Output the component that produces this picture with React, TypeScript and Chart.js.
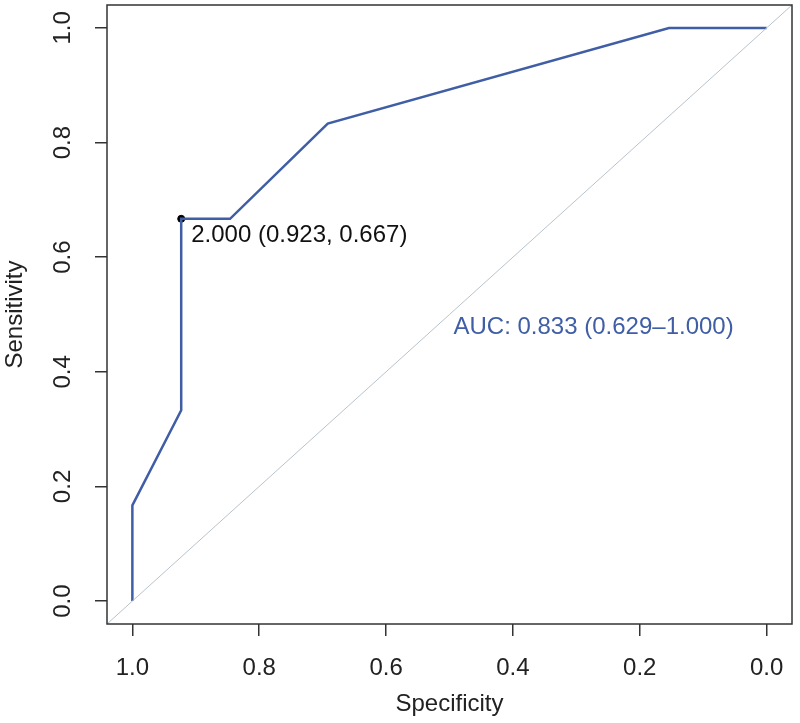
import React, { useEffect, useRef } from 'react';
import { Chart, registerables } from 'chart.js';

Chart.register(...registerables);

// ---- data ----
const specificity = [1.0, 1.0, 0.923, 0.923, 0.846, 0.692, 0.154, 0.0];
const sensitivity = [0.0, 0.167, 0.333, 0.667, 0.667, 0.833, 1.0, 1.0];
const tickValues = [0, 0.2, 0.4, 0.6, 0.8, 1.0];
const diagSpec = [1.1, -0.1];
const diagSens = [-0.1, 1.1];
const thresholdSpec = [0.923];
const thresholdSens = [0.667];
const thresholdLabel = '2.000 (0.923, 0.667)';
const aucLabel = 'AUC: 0.833 (0.629\u20131.000)';
const aucPos = [0.5, 0.5];
const xTitle = 'Specificity';
const yTitle = 'Sensitivity';

const FONT = '"Liberation Sans", Arial, Helvetica, sans-serif';
const BLUE = '#3f5ea5';
const AXIS = '#333333';
const TEXT = '#222222';

const decoPlugin = {
  id: 'rDeco',
  afterDraw(chart: any) {
    const { ctx, chartArea, scales } = chart;
    const x = scales.x;
    const y = scales.y;
    ctx.save();
    // box
    ctx.strokeStyle = AXIS;
    ctx.lineWidth = 1.5;
    ctx.strokeRect(chartArea.left, chartArea.top, chartArea.right - chartArea.left, chartArea.bottom - chartArea.top);
    // rotated y tick labels
    ctx.font = `24px ${FONT}`;
    ctx.fillStyle = TEXT;
    ctx.textAlign = 'center';
    ctx.textBaseline = 'middle';
    tickValues.forEach((v) => {
      const py = y.getPixelForValue(v);
      ctx.save();
      ctx.translate(63, py);
      ctx.rotate(-Math.PI / 2);
      ctx.fillText(v.toFixed(1), 0, 0);
      ctx.restore();
    });
    // threshold label
    const tx = x.getPixelForValue(thresholdSpec[0]);
    const ty = y.getPixelForValue(thresholdSens[0]);
    ctx.textAlign = 'left';
    ctx.textBaseline = 'middle';
    ctx.fillStyle = '#111111';
    ctx.fillText(thresholdLabel, tx + 10, ty + 17);
    // AUC label
    ctx.fillStyle = BLUE;
    ctx.textBaseline = 'top';
    ctx.fillText(aucLabel, x.getPixelForValue(aucPos[0]) + 4, y.getPixelForValue(aucPos[1]) + 1);
    ctx.restore();
  },
};

export default function App() {
  const ref = useRef<HTMLCanvasElement | null>(null);
  useEffect(() => {
    document.body.style.margin = '0';
    const canvas = ref.current;
    if (!canvas) return;
    const gridOpts = {
      display: true,
      drawOnChartArea: false,
      drawTicks: true,
      tickLength: 12,
      color: AXIS,
      lineWidth: 1.5,
    };
    const chart = new Chart(canvas, {
      type: 'scatter',
      data: {
        datasets: [
          {
            data: diagSpec.map((s, i) => ({ x: s, y: diagSens[i] })),
            showLine: true,
            borderColor: '#b9c3cc',
            borderWidth: 1,
            pointRadius: 0,
          },
          {
            data: specificity.map((s, i) => ({ x: s, y: sensitivity[i] })),
            showLine: true,
            borderColor: BLUE,
            borderWidth: 2.5,
            pointRadius: 0,
            borderJoinStyle: 'miter',
          },
          {
            data: thresholdSpec.map((s, i) => ({ x: s, y: thresholdSens[i] })),
            showLine: false,
            pointRadius: 3.5,
            pointBackgroundColor: '#000000',
            pointBorderColor: '#000000',
          },
        ],
      },
      plugins: [decoPlugin],
      options: {
        animation: false,
        responsive: false,
        devicePixelRatio: 1,
        layout: { padding: { top: 4, right: 8, left: 0, bottom: 0 } },
        plugins: { legend: { display: false }, tooltip: { enabled: false } },
        scales: {
          x: {
            type: 'linear',
            reverse: true,
            min: -0.04,
            max: 1.04,
            afterBuildTicks: (scale: any) => {
              scale.ticks = tickValues.map((v) => ({ value: v }));
            },
            afterFit: (scale: any) => {
              scale.height = 99;
            },
            border: { display: false },
            grid: gridOpts,
            ticks: {
              color: TEXT,
              font: { family: FONT, size: 24 },
              padding: 18,
              maxRotation: 0,
              minRotation: 0,
              callback: (v: any) => Number(v).toFixed(1),
            },
            title: {
              display: true,
              text: xTitle,
              color: TEXT,
              font: { family: FONT, size: 24 },
              padding: { top: 0, bottom: 4 },
            },
          },
          y: {
            type: 'linear',
            min: -0.04,
            max: 1.04,
            afterBuildTicks: (scale: any) => {
              scale.ticks = tickValues.map((v) => ({ value: v }));
            },
            afterFit: (scale: any) => {
              scale.width = 107;
            },
            border: { display: false },
            grid: gridOpts,
            ticks: { display: false },
            title: {
              display: true,
              text: yTitle,
              color: TEXT,
              font: { family: FONT, size: 24 },
              padding: { top: 1, bottom: 0 },
            },
          },
        },
      },
    });
    return () => chart.destroy();
  }, []);
  return <canvas ref={ref} width={800} height={723} style={{ display: 'block' }} />;
}
